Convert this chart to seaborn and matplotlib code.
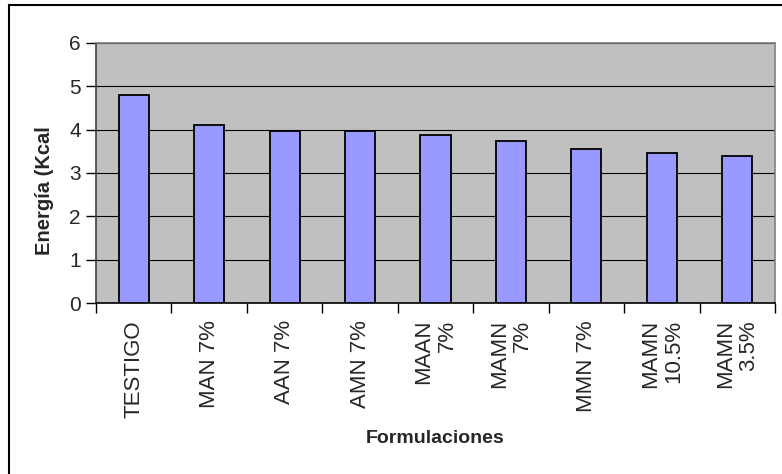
import matplotlib
matplotlib.use("Agg")
import matplotlib.pyplot as plt
from matplotlib.patches import Rectangle
import seaborn as sns
import pandas as pd

# Formulations and their energy content
categories = ["TESTIGO", "MAN 7%", "AAN 7%", "AMN 7%", "MAAN\n7%",
              "MAMN\n7%", "MMN 7%", "MAMN\n10.5%", "MAMN\n3.5%"]
energia = [4.80, 4.10, 3.97, 3.97, 3.88, 3.74, 3.56, 3.47, 3.40]
y_ticks = [0, 1, 2, 3, 4, 5, 6]

df = pd.DataFrame({"Formulacion": categories, "Energia": energia})

sns.set_theme(style="white")
plt.rcParams["font.family"] = ["Liberation Sans", "DejaVu Sans"]

W, H = 782, 474
fig = plt.figure(figsize=(W / 100, H / 100), dpi=100)
fig.patch.set_facecolor("white")

# plot area in pixel terms
left, right, top, bottom = 96, 775, 42.7, 303.3
ax = fig.add_axes([left / W, (H - bottom) / H, (right - left) / W, (bottom - top) / H])
ax.set_facecolor("#C0C0C0")

sns.barplot(data=df, x="Formulacion", y="Energia", color="#9999FF",
            saturation=1, edgecolor="black", linewidth=1.3, width=0.4, ax=ax,
            zorder=3)

ax.set_xlim(-0.5, len(categories) - 0.5)
ax.set_ylim(0, 6)
ax.set_yticks(y_ticks)
ax.yaxis.grid(True, color="black", linewidth=0.8, zorder=1)
ax.set_axisbelow(True)

# category separators as ticks, labels centred under bars
ax.set_xticks(range(len(categories)))
ax.set_xticklabels(categories, rotation=90, fontsize=16,
                   multialignment="right", linespacing=1.15)
ax.set_xticks([i - 0.5 for i in range(len(categories) + 1)], minor=True)
ax.tick_params(axis="x", which="major", length=0, pad=12)
ax.tick_params(axis="x", which="minor", length=7, width=1, color="black",
               direction="out", bottom=True)
ax.tick_params(axis="y", length=7, width=1, color="black", direction="out",
               left=True, labelsize=15, pad=4)

for s in ["top", "right"]:
    ax.spines[s].set_color("#808080")
    ax.spines[s].set_linewidth(1.2)
ax.spines["left"].set_color("#404040")
ax.spines["bottom"].set_color("black")
for s in ["left", "bottom"]:
    ax.spines[s].set_linewidth(1.2)

ax.set_xlabel("Formulaciones", fontsize=14, fontweight="bold")
ax.set_ylabel("Energía (Kcal", fontsize=14.5, fontweight="bold")
ax.xaxis.set_label_coords(0.5, (bottom - 430) / (bottom - top))
ax.yaxis.set_label_coords((54 - left) / (right - left), 0.431)

# chart frame
fig.patches.append(Rectangle((9 / W, -0.2), 1.2, 1.2 - 5 / H,
                             transform=fig.transFigure, fill=False,
                             edgecolor="black", linewidth=1.5))

fig.savefig("out.png", dpi=100, facecolor="white")
